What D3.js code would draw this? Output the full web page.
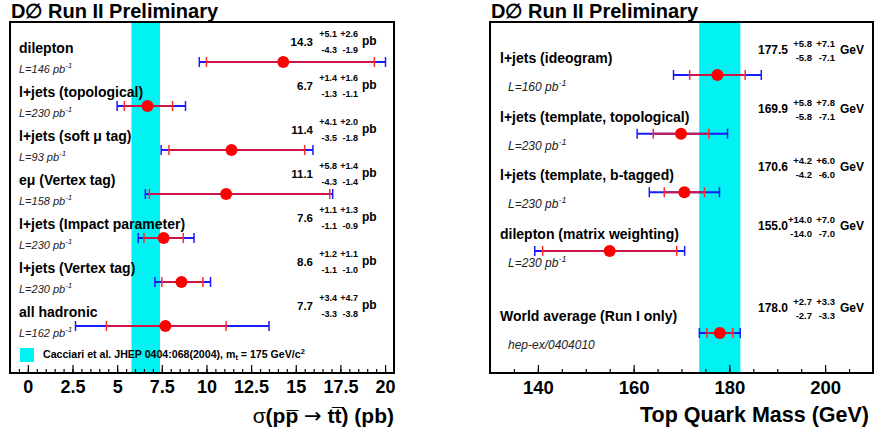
<!DOCTYPE html>
<html>
<head>
<meta charset="utf-8">
<script src="https://cdn.jsdelivr.net/npm/d3@7"></script>
<style>
body { margin: 0; background: #fff; }
text { font-family: "Liberation Sans", Arial, Helvetica, sans-serif; }
</style>
</head>
<body>
<svg id="chart" width="875" height="431"></svg>
<script>
// cross section measurements (pb)
var xsLabels = ["dilepton", "l+jets (topological)", "l+jets (soft \u03bc tag)", "e\u03bc (Vertex tag)",
                "l+jets (Impact parameter)", "l+jets (Vertex tag)", "all hadronic"];
var xsLumi = ["L=146 pb", "L=230 pb", "L=93 pb", "L=158 pb", "L=230 pb", "L=230 pb", "L=162 pb"];
var xsVal = [14.3, 6.7, 11.4, 11.1, 7.6, 8.6, 7.7];
var xsStatUp = [5.1, 1.4, 4.1, 5.8, 1.1, 1.2, 3.4];
var xsStatDn = [4.3, 1.3, 3.5, 4.3, 1.1, 1.1, 3.3];
var xsSystUp = [2.6, 1.6, 2.0, 1.4, 1.3, 1.1, 4.7];
var xsSystDn = [1.9, 1.1, 1.8, 1.4, 0.9, 1.0, 3.8];
var xsRow = [0, 1, 2, 3, 4, 5, 6];
var xsBand = [5.8, 7.4]; // Cacciari et al., mt = 175
var xsTicks = [0, 2.5, 5, 7.5, 10, 12.5, 15, 17.5, 20];
var xsTickLabels = ["0", "2.5", "5", "7.5", "10", "12.5", "15", "17.5", "20"];

// top mass measurements (GeV)
var mLabels = ["l+jets (ideogram)", "l+jets (template, topological)", "l+jets (template, b-tagged)",
               "dilepton (matrix weighting)", "World average (Run I only)"];
var mNotes = ["L=160 pb", "L=230 pb", "L=230 pb", "L=230 pb", "hep-ex/0404010"];
var mVal = [177.5, 169.9, 170.6, 155.0, 178.0];
var mStatUp = [5.8, 5.8, 4.2, 14.0, 2.7];
var mStatDn = [5.8, 5.8, 4.2, 14.0, 2.7];
var mSystUp = [7.1, 7.8, 6.0, 7.0, 3.3];
var mSystDn = [7.1, 7.1, 6.0, 7.0, 3.3];
var mRow = [0, 1, 2, 3, 4.4];
var mBand = [173.7, 182.3]; // world average
var mTicks = [140, 160, 180, 200];
var mTickLabels = ["140", "160", "180", "200"];

var svg = d3.select("#chart");
var f1 = d3.format(".1f");

function drawPanel(p) {
  var g = svg.append("g");
  var x = d3.scaleLinear().domain(p.domain).range([p.left, p.right]);
  var y = d3.scaleLinear().domain([0, d3.max(p.rows)]).range(p.yRange);

  var rows = p.labels.map(function(l, i) {
    var tu = Math.sqrt(p.statUp[i] * p.statUp[i] + p.systUp[i] * p.systUp[i]);
    var td = Math.sqrt(p.statDn[i] * p.statDn[i] + p.systDn[i] * p.systDn[i]);
    return { label: l, note: p.notes[i], v: p.vals[i], su: p.statUp[i], sd: p.statDn[i],
             yu: p.systUp[i], yd: p.systDn[i], tu: tu, td: td, row: p.rows[i] };
  });

  // band
  g.append("rect")
    .attr("x", x(p.band[0])).attr("y", p.top)
    .attr("width", x(p.band[1]) - x(p.band[0]))
    .attr("height", p.bottom - p.top)
    .attr("fill", "#00f2f2");

  // axis ticks (inside)
  var minor = d3.range(p.domain[0], p.domain[1] + 1e-9, p.minorStep)
    .filter(function(v) { return v > p.domain[0] && v < p.domain[1]; });
  g.append("g").attr("transform", "translate(0," + p.bottom + ")")
    .call(d3.axisBottom(x).tickValues(minor).tickSize(-4).tickFormat(""))
    .call(function(a) { a.select(".domain").remove(); a.selectAll("line").attr("stroke-width", 1.2); });
  var ax = g.append("g").attr("transform", "translate(0," + p.bottom + ")")
    .call(d3.axisBottom(x).tickValues(p.ticks).tickSize(-8).tickPadding(p.tickPad)
      .tickFormat(function(d, i) { return p.tickLabels[i]; }));
  ax.select(".domain").remove();
  ax.selectAll("line").attr("stroke-width", 1.2);
  ax.selectAll("text").attr("font-size", p.tickFont).attr("font-weight", "bold")
    .attr("font-family", "Liberation Sans, Arial, sans-serif").attr("fill", "#000");

  // frame
  g.append("rect")
    .attr("x", p.left).attr("y", p.top)
    .attr("width", p.right - p.left).attr("height", p.bottom - p.top)
    .attr("fill", "none").attr("stroke", "#000").attr("stroke-width", 2);

  // error bars
  var r = g.selectAll(".row").data(rows).enter().append("g").attr("class", "row");
  r.append("line")
    .attr("x1", function(d) { return x(d.v - d.td); }).attr("x2", function(d) { return x(d.v + d.tu); })
    .attr("y1", function(d) { return y(d.row); }).attr("y2", function(d) { return y(d.row); })
    .attr("stroke", "#1a1aff").attr("stroke-width", 2);
  r.append("line")
    .attr("x1", function(d) { return x(d.v - d.sd); }).attr("x2", function(d) { return x(d.v + d.su); })
    .attr("y1", function(d) { return y(d.row); }).attr("y2", function(d) { return y(d.row); })
    .attr("stroke", "#cc1448").attr("stroke-width", 2);
  [["td", -1, "#1a1aff"], ["tu", 1, "#1a1aff"], ["sd", -1, "#ff2a2a"], ["su", 1, "#ff2a2a"]].forEach(function(t) {
    r.append("line")
      .attr("x1", function(d) { return x(d.v + t[1] * d[t[0]]); })
      .attr("x2", function(d) { return x(d.v + t[1] * d[t[0]]); })
      .attr("y1", function(d) { return y(d.row) - 5; })
      .attr("y2", function(d) { return y(d.row) + 5; })
      .attr("stroke", t[2]).attr("stroke-width", 1.5);
  });
  r.append("circle")
    .attr("cx", function(d) { return x(d.v); }).attr("cy", function(d) { return y(d.row); })
    .attr("r", 6).attr("fill", "#ff0000");

  // texts
  r.append("text")
    .attr("x", p.labelX).attr("y", function(d) { return y(d.row) + p.off.label; })
    .attr("font-size", 14).attr("font-weight", "bold").text(function(d) { return d.label; });
  var n = r.append("text")
    .attr("x", p.noteX).attr("y", function(d) { return y(d.row) + p.off.note; })
    .attr("font-size", p.noteFont).attr("font-style", "italic").attr("fill", "#222")
    .text(function(d) { return d.note; });
  n.filter(function(d) { return d.note.indexOf("pb") >= 0; })
    .append("tspan").attr("dy", -5).attr("font-size", p.noteFont - 3).text("-1");

  r.append("text")
    .attr("x", p.numX).attr("y", function(d) { return y(d.row) + p.off.num; })
    .attr("text-anchor", "end").attr("font-size", p.numFont).attr("font-weight", "bold")
    .text(function(d) { return f1(d.v); });
  [["su", "+", p.col1, p.off.sup], ["yu", "+", p.col2, p.off.sup],
   ["sd", "-", p.col1, p.off.sub], ["yd", "-", p.col2, p.off.sub]].forEach(function(t) {
    r.append("text")
      .attr("x", t[2]).attr("y", function(d) { return y(d.row) + t[3]; })
      .attr("text-anchor", "end").attr("font-size", p.supFont).attr("font-weight", "bold")
      .text(function(d) { return t[1] + f1(d[t[0]]); });
  });
  r.append("text")
    .attr("x", p.unitX).attr("y", function(d) { return y(d.row) + p.off.unit; })
    .attr("font-size", 12).attr("font-weight", "bold").text(p.unit);

  // panel title
  g.append("text").attr("x", p.left + 1).attr("y", 18)
    .attr("font-size", 20).attr("font-weight", "bold").text("D\u2205 Run II Preliminary");

  return { g: g, x: x };
}

var left = drawPanel({
  domain: [-1, 20.5], left: 10, right: 394, top: 22, bottom: 373, yRange: [62, 326],
  rows: xsRow, labels: xsLabels, notes: xsLumi, vals: xsVal,
  statUp: xsStatUp, statDn: xsStatDn, systUp: xsSystUp, systDn: xsSystDn,
  band: xsBand, ticks: xsTicks, tickLabels: xsTickLabels, minorStep: 0.5, tickPad: 7, tickFont: 18,
  labelX: 19, noteX: 19, noteFont: 11, numX: 313, col1: 337, col2: 358, unitX: 362,
  numFont: 11.5, supFont: 9, unit: "pb",
  off: { label: -9, note: 11, num: -16, sup: -25, sub: -9, unit: -17 }
});

var right = drawPanel({
  domain: [130, 210], left: 490, right: 873, top: 22, bottom: 373, yRange: [75, 333],
  rows: mRow, labels: mLabels, notes: mNotes, vals: mVal,
  statUp: mStatUp, statDn: mStatDn, systUp: mSystUp, systDn: mSystDn,
  band: mBand, ticks: mTicks, tickLabels: mTickLabels, minorStep: 5, tickPad: 8, tickFont: 18.5,
  labelX: 500, noteX: 508, noteFont: 12, numX: 788, col1: 812, col2: 835, unitX: 840,
  numFont: 12, supFont: 9.5, unit: "GeV",
  off: { label: -12, note: 16, num: -21, sup: -28, sub: -14, unit: -21 }
});

// legend in left panel
left.g.append("rect").attr("x", 20).attr("y", 348).attr("width", 14).attr("height", 14).attr("fill", "#00f2f2");
var lg = left.g.append("text").attr("x", 43).attr("y", 358).attr("font-size", 10.6).attr("font-weight", "bold");
lg.append("tspan").text("Cacciari et al. JHEP 0404:068(2004), m");
lg.append("tspan").attr("font-size", 7.5).attr("dy", 2).text("t");
lg.append("tspan").attr("dy", -2).text(" = 175 GeV/c");
lg.append("tspan").attr("font-size", 7.5).attr("dy", -4).text("2");

// axis titles
var xt = svg.append("text").attr("x", 394).attr("y", 423).attr("text-anchor", "end")
  .attr("font-size", 21).attr("font-weight", "bold");
xt.append("tspan").attr("font-weight", "normal").text("\u03c3");
xt.append("tspan").text("(pp\u0305 ");
xt.append("tspan").attr("font-weight", "normal").attr("font-family", "DejaVu Sans").text("\u2192");
xt.append("tspan").text(" tt\u0305) (pb)");

svg.append("text").attr("x", 869).attr("y", 422).attr("text-anchor", "end")
  .attr("font-size", 21.5).attr("font-weight", "bold").text("Top Quark Mass (GeV)");
</script>
</body>
</html>
